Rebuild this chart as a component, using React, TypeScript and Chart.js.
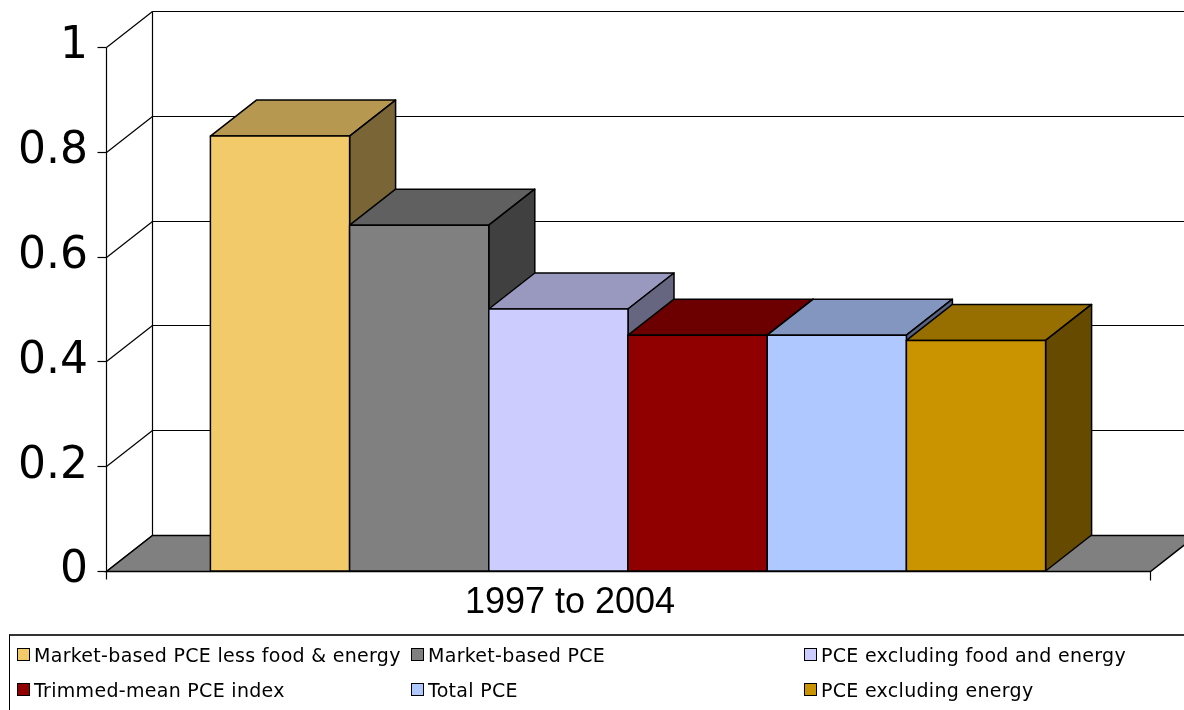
import React, { useEffect, useRef } from "react";
import { Chart, registerables } from "chart.js";

Chart.register(...registerables);

const categories = ["1997 to 2004"];
const seriesNames = [
  "Market-based PCE less food & energy",
  "Market-based PCE",
  "PCE excluding food and energy",
  "Trimmed-mean PCE index",
  "Total PCE",
  "PCE excluding energy",
];
const seriesValues = [0.83, 0.66, 0.5, 0.45, 0.45, 0.44];
const seriesColors = ["#F2CA6A", "#808080", "#CCCCFF", "#900000", "#AFC8FF", "#C99400"];
const yTickValues = [0, 0.2, 0.4, 0.6, 0.8, 1];

const DX = 46;
const DY = 36;

function shade(hex: string, f: number) {
  const n = parseInt(hex.slice(1), 16);
  const r = Math.round(((n >> 16) & 255) * f);
  const g = Math.round(((n >> 8) & 255) * f);
  const b = Math.round((n & 255) * f);
  return `rgb(${r},${g},${b})`;
}

function poly(ctx: CanvasRenderingContext2D, pts: number[][], fill: string) {
  ctx.beginPath();
  ctx.moveTo(pts[0][0], pts[0][1]);
  for (let i = 1; i < pts.length; i++) ctx.lineTo(pts[i][0], pts[i][1]);
  ctx.closePath();
  ctx.fillStyle = fill;
  ctx.fill();
  ctx.stroke();
}

const threeD = {
  id: "threeD",
  beforeDatasetsDraw(chart: any) {
    const { ctx, chartArea: ca, scales } = chart;
    const y = scales.y;
    const L = Math.round(ca.left) + 0.5;
    const R = Math.round(ca.right) + 0.5;
    const y0 = Math.round(y.getPixelForValue(0)) + 0.5;
    const y1 = Math.round(y.getPixelForValue(1)) + 0.5;
    const line = (a: number, b: number, c: number, d: number) => {
      ctx.beginPath();
      ctx.moveTo(a, b);
      ctx.lineTo(c, d);
      ctx.stroke();
    };
    ctx.save();
    ctx.lineWidth = 1.2;
    ctx.strokeStyle = "#000";
    for (const t of yTickValues) {
      const py = Math.round(y.getPixelForValue(t)) + 0.5;
      line(L + DX, py - DY, R + DX + 60, py - DY);
      line(L, py, L + DX, py - DY);
      line(L - 9, py, L, py);
    }
    line(L + DX, y1 - DY, L + DX, y0 - DY);
    line(L, y1, L, y0 + 8);
    // floor
    ctx.lineWidth = 1.5;
    poly(ctx, [[L, y0], [R, y0], [R + DX, y0 - DY], [L + DX, y0 - DY]], "#808080");
    ctx.lineWidth = 1.2;
    line(R, y0, R, y0 + 9);
    ctx.restore();
  },
  afterDatasetsDraw(chart: any) {
    const { ctx } = chart;
    ctx.save();
    ctx.lineWidth = 1.5;
    ctx.strokeStyle = "#000";
    ctx.lineJoin = "round";
    chart.data.datasets.forEach((ds: any, i: number) => {
      const el = chart.getDatasetMeta(i).data[0];
      if (!el) return;
      const p = el.getProps(["x", "y", "base", "width"], true);
      const l = p.x - p.width / 2;
      const r = p.x + p.width / 2;
      const t = p.y;
      const b = p.base;
      const c = ds.backgroundColor as string;
      poly(ctx, [[l, t], [r, t], [r + DX, t - DY], [l + DX, t - DY]], shade(c, 0.75));
      poly(ctx, [[r, t], [r + DX, t - DY], [r + DX, b - DY], [r, b]], shade(c, 0.5));
      poly(ctx, [[l, t], [r, t], [r, b], [l, b]], c);
    });
    ctx.restore();
  },
};

export default function App() {
  const ref = useRef<HTMLCanvasElement>(null);
  useEffect(() => {
    document.body.style.margin = "0";
    const chart = new Chart(ref.current!, {
      type: "bar",
      data: {
        labels: categories,
        datasets: seriesNames.map((name, i) => ({
          label: name,
          data: [seriesValues[i]],
          backgroundColor: seriesColors[i],
          borderWidth: 0,
          categoryPercentage: 0.8,
          barPercentage: 1,
        })),
      },
      options: {
        responsive: false,
        animation: false,
        devicePixelRatio: 1,
        layout: { padding: { left: 0, right: 34, top: 47, bottom: 0 } },
        plugins: { legend: { display: false }, tooltip: { enabled: false } },
        scales: {
          x: {
            grid: { display: false },
            border: { display: false },
            ticks: {
              color: "#000",
              labelOffset: -58,
              padding: 2,
              font: { family: "'Liberation Sans', Arial, sans-serif", size: 36 },
            },
            afterFit: (s: any) => {
              s.height = 139;
            },
          },
          y: {
            min: 0,
            max: 1,
            grid: { display: false, drawTicks: false },
            border: { display: false },
            ticks: {
              stepSize: 0.2,
              color: "#000",
              padding: 18,
              font: { family: "'DejaVu Sans', sans-serif", size: 44 },
              callback: (v: any) => String(Math.round(Number(v) * 10) / 10),
            },
            afterFit: (s: any) => {
              s.width = 106;
            },
          },
        },
      },
      plugins: [threeD],
    });
    return () => chart.destroy();
  }, []);

  return (
    <div style={{ position: "relative", width: 1184, height: 710, overflow: "hidden", background: "#fff" }}>
      <canvas ref={ref} width={1184} height={710} style={{ position: "absolute", left: 0, top: 0 }} />
      <div
        style={{
          position: "absolute",
          left: 9,
          top: 634,
          width: 1200,
          height: 100,
          borderTop: "2px solid #333",
          borderLeft: "1px solid #000",
          boxSizing: "border-box",
          display: "grid",
          gridTemplateColumns: "394px 393px 1fr",
          gridAutoRows: "35px",
          paddingTop: 1,
          paddingLeft: 7,
          fontFamily: "'DejaVu Sans', sans-serif",
          fontSize: 19,
          letterSpacing: "0.3px",
          color: "#000",
        }}
      >
        {seriesNames.map((name, i) => (
          <div key={name} style={{ display: "flex", alignItems: "center", whiteSpace: "nowrap" }}>
            <span
              style={{
                display: "inline-block",
                width: 13,
                height: 13,
                border: "1.5px solid #000",
                background: seriesColors[i],
                marginRight: 4,
                boxSizing: "border-box",
                flex: "none",
              }}
            />
            <span>{name}</span>
          </div>
        ))}
      </div>
    </div>
  );
}
